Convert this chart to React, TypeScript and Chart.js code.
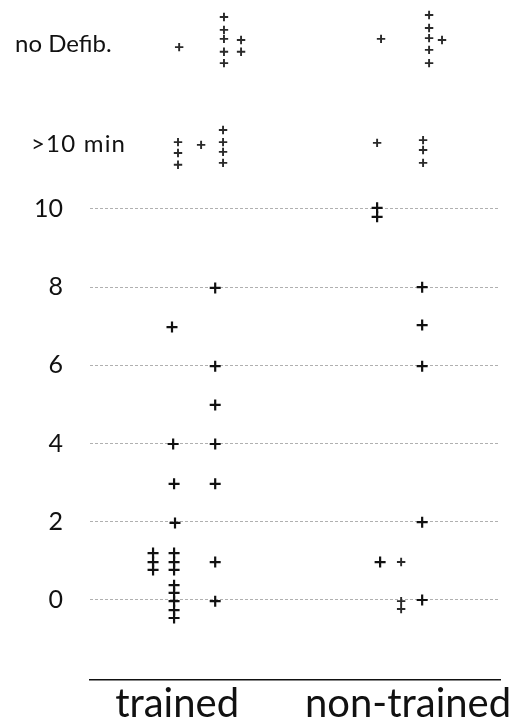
import React, { useEffect, useRef } from "react";
import { Chart, registerables } from "chart.js";

Chart.register(...registerables);

// Group positions on the x scale: 1 = trained, 2 = non-trained
const groupNames = ["trained", "non-trained"];
const groupValues = [1, 2];

// Minutes axis
const yTickValues = [0, 2, 4, 6, 8, 10];
const categoryLabels = ["no Defib.", ">10 min"];
const categoryValues = [14.2, 11.65];

// Trained group, solid crosses (x = jittered group position, y = minutes)
const trainedX = [
  0.896, 0.896, 0.896,
  0.987, 0.987, 0.987, 0.987, 0.987, 0.987, 0.987, 0.987,
  0.991, 0.987, 0.983, 0.978,
  1.165, 1.165, 1.165, 1.165, 1.165, 1.165, 1.165,
];
const trainedY = [
  1.2, 0.97, 0.77,
  1.2, 0.97, 0.77, 0.38, 0.18, -0.03, -0.26, -0.46,
  1.97, 2.97, 3.99, 6.98,
  -0.03, 0.97, 2.97, 3.99, 4.99, 5.98, 7.98,
];

// Trained group, faint crosses ("no Defib." and ">10 min" rows)
const trainedFaintX = [
  1.009, 1.203, 1.203, 1.203, 1.203, 1.203, 1.277, 1.277,
  1.004, 1.004, 1.004, 1.104, 1.199, 1.199, 1.199, 1.199,
];
const trainedFaintY = [
  14.14, 14.91, 14.58, 14.35, 14.02, 13.73, 14.32, 14.02,
  11.71, 11.43, 11.13, 11.64, 12.02, 11.71, 11.46, 11.18,
];

// Non-trained group, solid crosses
const nonTrainedX = [1.866, 1.866, 1.879, 2.061, 2.061, 2.061, 2.061, 2.061];
const nonTrainedY = [10.03, 9.8, 0.97, 0.0, 1.99, 5.98, 7.03, 8.0];

// Non-trained group, faint crosses
const nonTrainedFaintX = [
  1.97, 1.97, 1.97,
  1.883, 2.091, 2.091, 2.091, 2.091, 2.091, 2.147,
  1.866, 2.065, 2.065, 2.065,
];
const nonTrainedFaintY = [
  0.97, -0.03, -0.23,
  14.35, 14.96, 14.63, 14.37, 14.07, 13.73, 14.32,
  11.69, 11.76, 11.51, 11.18,
];

const toPoints = (xs: number[], ys: number[]) => xs.map((x, i) => ({ x, y: ys[i] }));

const FONT = "Lato, 'Open Sans', sans-serif";

const categoryLabelPlugin = {
  id: "categoryLabels",
  afterDraw(chart: any) {
    const { ctx } = chart;
    const yScale = chart.scales.y;
    ctx.save();
    ctx.fillStyle = "#111";
    ctx.font = `24px ${FONT}`;
    ctx.textBaseline = "middle";
    ctx.textAlign = "left";
    const lefts = [15, 31];
    const spacing = ["0px", "1.2px"];
    categoryLabels.forEach((lab, i) => {
      (ctx as any).letterSpacing = spacing[i];
      ctx.fillText(lab, lefts[i], yScale.getPixelForValue(categoryValues[i]));
    });
    ctx.restore();
  },
};

export default function App() {
  const canvasRef = useRef<HTMLCanvasElement | null>(null);

  useEffect(() => {
    if (!canvasRef.current) return;
    const solid = { pointStyle: "cross", pointRadius: 5.5, pointBorderWidth: 2.2, borderColor: "#111", backgroundColor: "#111", showLine: false, clip: false };
    const faint = { pointStyle: "cross", pointRadius: 4.2, pointBorderWidth: 1.9, borderColor: "#2a2a2a", backgroundColor: "#2a2a2a", showLine: false, clip: false };
    const chart = new Chart(canvasRef.current, {
      type: "scatter",
      data: {
        datasets: [
          { ...solid, data: toPoints(trainedX, trainedY) },
          { ...faint, data: toPoints(trainedFaintX, trainedFaintY) },
          { ...solid, data: toPoints(nonTrainedX, nonTrainedY) },
          { ...faint, data: toPoints(nonTrainedFaintX, nonTrainedFaintY) },
        ] as any,
      },
      options: {
        animation: false,
        responsive: false,
        maintainAspectRatio: false,
        events: [],
        layout: { padding: { top: 8, right: 28, left: 0, bottom: 0 } },
        plugins: { legend: { display: false }, tooltip: { enabled: false } },
        scales: {
          x: {
            type: "linear",
            min: 0.623,
            max: 2.398,
            afterBuildTicks: (scale: any) => {
              scale.ticks = groupValues.map((v) => ({ value: v }));
            },
            afterFit: (scale: any) => {
              scale.height = 47;
            },
            grid: { display: false, drawTicks: false },
            border: { display: true, color: "#111", width: 1.5 },
            ticks: {
              color: "#111",
              font: { family: FONT, size: 40 },
              padding: 0,
              autoSkip: false,
              maxRotation: 0,
              callback: (v: any) => {
                const i = groupValues.indexOf(Number(v));
                return i >= 0 ? groupNames[i] : "";
              },
            },
          },
          y: {
            type: "linear",
            min: -2.046,
            max: 15.14,
            afterBuildTicks: (scale: any) => {
              scale.ticks = yTickValues.map((v) => ({ value: v }));
            },
            afterFit: (scale: any) => {
              scale.width = 90;
            },
            grid: { color: "#b0b0b0", lineWidth: 1, drawTicks: true, tickLength: 25, tickColor: "rgba(0,0,0,0)" },
            border: { display: false, dash: [3, 2] },
            ticks: {
              color: "#111",
              font: { family: FONT, size: 25, lineHeight: 0.4 },
              padding: 2,
              callback: (v: any) => String(v),
            },
          },
        },
      },
      plugins: [categoryLabelPlugin],
    });
    return () => chart.destroy();
  }, []);

  return (
    <div style={{ position: "fixed", left: 0, top: 0, width: 528, height: 727, background: "#fff" }}>
      <canvas ref={canvasRef} width={528} height={727} style={{ width: 528, height: 727 }} />
    </div>
  );
}
